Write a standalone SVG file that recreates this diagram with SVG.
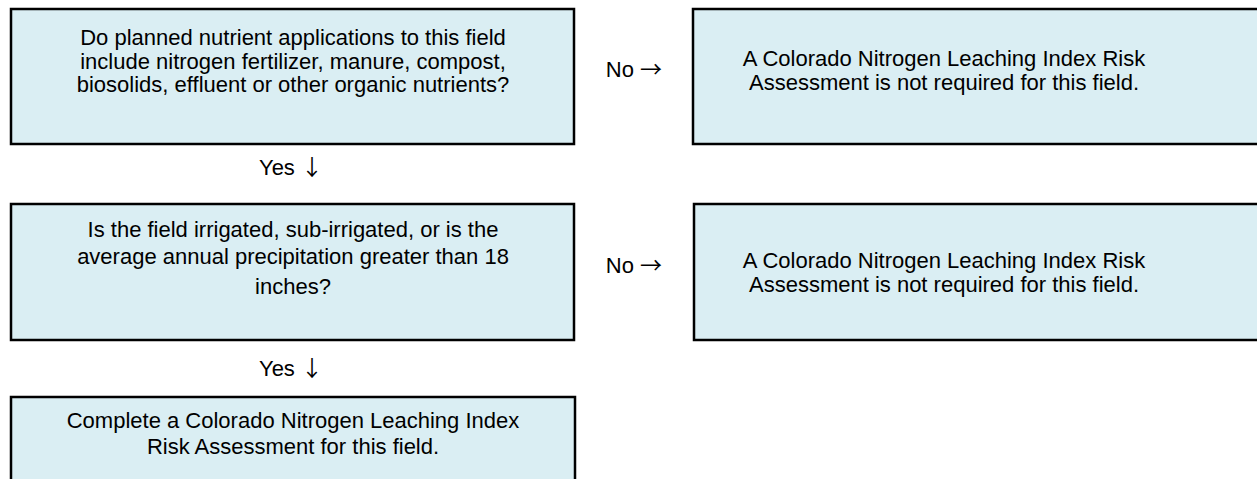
<svg xmlns="http://www.w3.org/2000/svg" width="1257" height="479" viewBox="0 0 1257 479">
<style>
.box{fill:#DAEEF3;stroke:#000;stroke-width:2.5}
text{font-family:"Liberation Sans",Arial,sans-serif;font-size:22px;fill:#000;text-anchor:middle}
.ar{font-family:"Noto Sans CJK JP","DejaVu Sans",sans-serif;fill:#000}
</style>
<rect width="1257" height="479" fill="#fff"/>
<g id="q1">
<rect class="box" x="11" y="9" width="563" height="135"/>
<text x="293" y="45">Do planned nutrient applications to this field</text>
<text x="293" y="68.5">include nitrogen fertilizer, manure, compost,</text>
<text x="293" y="92">biosolids, effluent or other organic nutrients?</text>
</g>
<g id="n1">
<rect class="box" x="693" y="9" width="580" height="135"/>
<text x="944" y="66">A Colorado Nitrogen Leaching Index Risk</text>
<text x="944" y="89.5">Assessment is not required for this field.</text>
</g>
<g id="q2">
<rect class="box" x="11" y="204" width="563" height="136"/>
<text x="293" y="237">Is the field irrigated, sub-irrigated, or is the</text>
<text x="293" y="264">average annual precipitation greater than 18</text>
<text x="293" y="294">inches?</text>
</g>
<g id="n2">
<rect class="box" x="694" y="204" width="580" height="136"/>
<text x="944" y="268">A Colorado Nitrogen Leaching Index Risk</text>
<text x="944" y="292">Assessment is not required for this field.</text>
</g>
<g id="done">
<rect class="box" x="11" y="397" width="564" height="100"/>
<text x="293" y="428">Complete a Colorado Nitrogen Leaching Index</text>
<text x="293" y="454">Risk Assessment for this field.</text>
</g>
<g id="connectors">
<text x="634" y="77">No <tspan class="ar">→</tspan></text>
<text x="291" y="175">Yes <tspan class="ar">↓</tspan></text>
<text x="634" y="273">No <tspan class="ar">→</tspan></text>
<text x="291" y="376">Yes <tspan class="ar">↓</tspan></text>
</g>
</svg>
